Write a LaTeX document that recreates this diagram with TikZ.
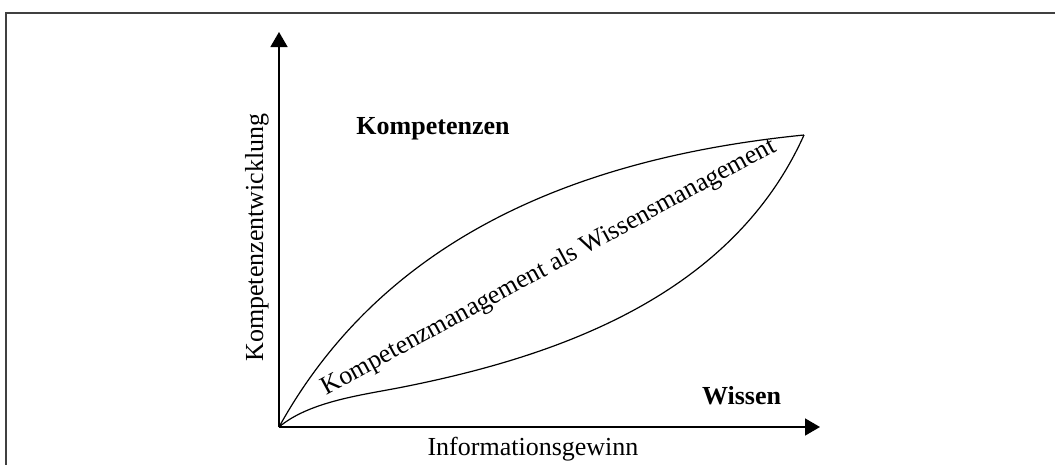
\documentclass[tikz,border=0pt]{standalone}
\usepackage{fontspec}
\setmainfont{Liberation Serif}
\usetikzlibrary{arrows.meta}
\tikzset{
  axis/.style={line width=1.5pt, -{Triangle[width=17pt,length=15pt]}},
  curve/.style={line width=1.2pt},
  lbl/.style={inner sep=0pt, font=\fontsize{26}{30}\selectfont},
  blbl/.style={lbl, font=\fontsize{26}{30}\selectfont\bfseries},
  frame/.style={line width=2pt, draw=black!75}
}
\begin{document}
\begin{tikzpicture}[x=1pt,y=-1pt]
\useasboundingbox (0,0) rectangle (1055,464);
\draw[frame] (5.5,470) -- (5.5,13) -- (1056,13);
\coordinate (O) at (279,427);
\coordinate (ytip) at (279,32);
\coordinate (xtip) at (820,427);
\coordinate (T) at (804,135);
\coordinate (M) at (403,387);
\draw[axis] (O) -- (ytip);
\draw[axis] (O) -- (xtip);
\draw[curve] (O) .. controls (376,252) and (554,160) .. (T);
\draw[curve] (O) .. controls (310,401) and (363.8,394.8) .. (M)
  .. controls (548.5,358) and (730,300) .. (T);
\node[blbl, anchor=base] (komp) at (433,134) {Kompetenzen};
\node[blbl, anchor=base] (wissen) at (741.5,404) {Wissen};
\node[lbl, anchor=base] (info) at (533,455) {Informationsgewinn};
\node[lbl, anchor=base, rotate=90] (kentw) at (263,237.5) {Kompetenzentwicklung};
\node[lbl, anchor=base, rotate=28.5] (km) at (552,273) {Kompetenzmanagement als Wissensmanagement};
\end{tikzpicture}
\end{document}
